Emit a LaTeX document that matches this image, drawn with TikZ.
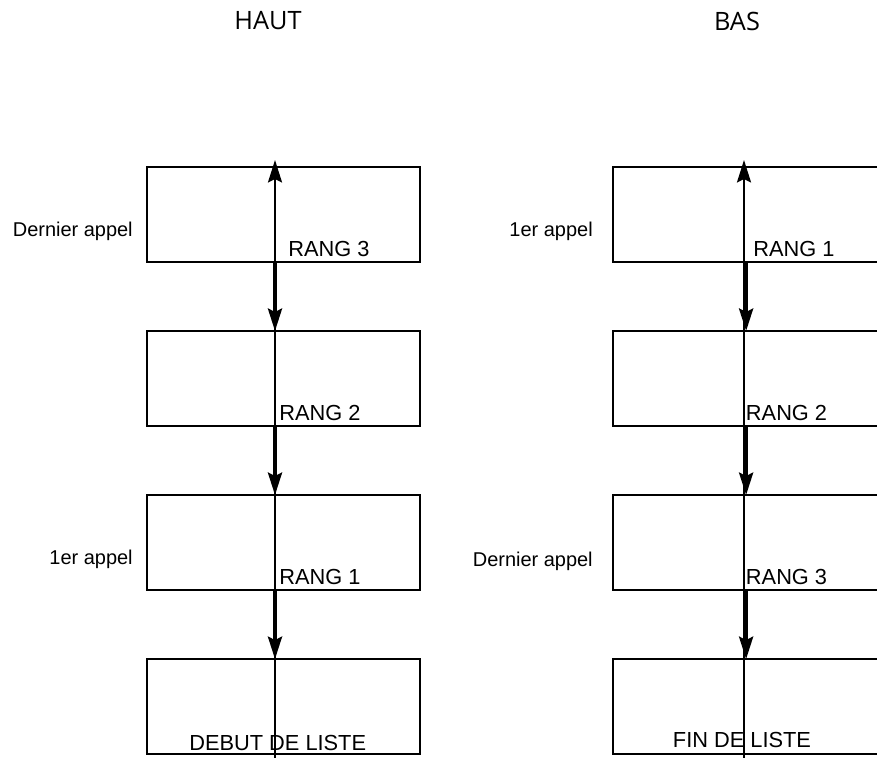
\documentclass[tikz,border=0pt]{standalone}
\usepackage{fontspec}
\setmainfont{Liberation Sans}
\newfontfamily\titlefont{Open Sans}
\usetikzlibrary{arrows.meta, positioning, calc}

\begin{document}
\begin{tikzpicture}[
    x=0.025cm, y=-0.025cm,
    node distance=1.725cm,
    pile/.style={draw, line width=1.8pt, minimum width=6.825cm, minimum height=2.375cm, inner sep=0pt, outer sep=0pt},
    rang/.style={font=\fontsize{15.5}{18}\selectfont, inner sep=0pt, anchor=base west},
    appel/.style={font=\fontsize{14.2}{17}\selectfont, inner sep=0pt, anchor=base east},
    titre/.style={font=\titlefont\fontsize{18}{22}\selectfont, inner sep=0pt},
    spine/.style={line width=1.6pt, -{Stealth[length=16pt, width=10pt, inset=2.5pt]}},
    arrow/.style={line width=2.4pt, -{Stealth[length=16pt, width=10pt, inset=2.5pt]}}
]
    \useasboundingbox (0,0) rectangle (877,758);

    % Titles
    \node[titre] (haut) at (268,21) {HAUT};
    \node[titre] (bas) at (737,21) {BAS};

    % Left stack
    \node[pile] (h1) at (283.5,214.5) {};
    \node[pile, below=of h1] (h2) {};
    \node[pile, below=of h2] (h3) {};
    \node[pile, below=of h3] (h4) {};

    % Right stack
    \node[pile] (b1) at (749.5,214.5) {};
    \node[pile, below=of b1] (b2) {};
    \node[pile, below=of b2] (b3) {};
    \node[pile, below=of b3] (b4) {};

    % Spines
    \coordinate (htop) at (275,160);
    \coordinate (hbot) at (275,758);
    \coordinate (btop) at (744,160);
    \coordinate (bbot) at (744,758);
    \draw[spine] (hbot) -- (htop);
    \draw[spine] (bbot) -- (btop);

    % Arrows between boxes
    \foreach \a/\b in {h1/h2, h2/h3, h3/h4}
        \draw[arrow] (\a.south -| htop) -- (\b.north -| htop);
    \foreach \a/\b in {b1/b2, b2/b3, b3/b4}
        \draw[arrow] ([xshift=1.5]\a.south -| btop) -- ([xshift=1.5]\b.north -| btop);

    % Rank labels
    \node[rang] (hr3) at (288,256.5) {RANG 3};
    \node[rang] (hr2) at (279,420.7) {RANG 2};
    \node[rang] (hr1) at (279,584.7) {RANG 1};
    \node[rang] (br1) at (753,256.5) {RANG 1};
    \node[rang] (br2) at (745.7,420.7) {RANG 2};
    \node[rang] (br3) at (745.7,584.7) {RANG 3};
    \node[rang, anchor=base] (debut) at (277.7,750.7) {DEBUT DE LISTE};
    \node[rang, anchor=base] (fin) at (742,747.7) {FIN DE LISTE};

    % Calls
    \node[appel] (hder) at (133,236.7) {Dernier appel};
    \node[appel] (hpre) at (133,564.7) {1er appel};
    \node[appel] (bpre) at (593,236.7) {1er appel};
    \node[appel] (bder) at (593,566.7) {Dernier appel};
\end{tikzpicture}
\end{document}
